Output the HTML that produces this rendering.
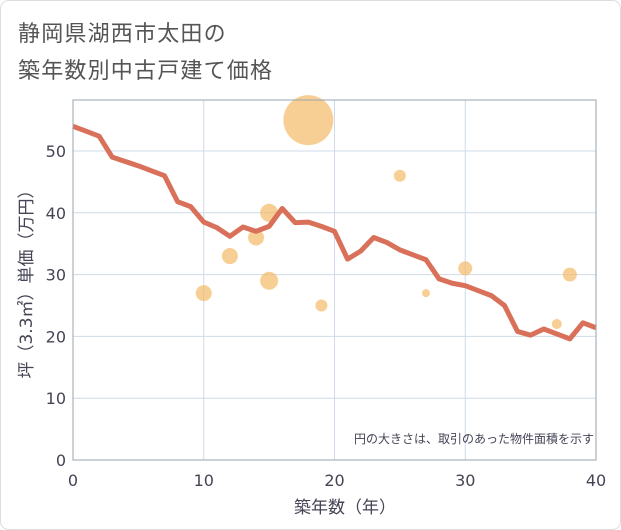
<!DOCTYPE html>
<html><head><meta charset="utf-8"><style>
body{margin:0;background:#fff;}
#wrap{position:relative;width:621px;height:530px;border-radius:8px;overflow:hidden;background:#fff;}
text{font-family:"DejaVu Sans","Noto Sans CJK JP",sans-serif;}
</style></head><body>
<div id="wrap">
<svg id="svg" width="621" height="530" xmlns="http://www.w3.org/2000/svg">
<rect x="0.5" y="0.5" width="620" height="529" rx="8" fill="#fff" stroke="#ddd"/>
<text x="18" y="41" font-size="22" letter-spacing="1.2" fill="#555">静岡県湖西市太田の</text>
<text x="18" y="78" font-size="22" letter-spacing="1.2" fill="#555">築年数別中古戸建て価格</text>
<g id="grid"></g>
<g id="bubbles"></g>
<path id="line" fill="none" stroke="#d9705a" stroke-width="5" stroke-linejoin="round"/>
<rect x="73" y="100" width="523" height="360" fill="none" stroke="#9aa3ad" stroke-width="1"/>
<g id="ticks"></g>
<text x="594" y="443" font-size="12" fill="#445" text-anchor="end">円の大きさは、取引のあった物件面積を示す</text>
<text x="345" y="513" font-size="17" fill="#445" text-anchor="middle">築年数（年）</text>
<text transform="translate(32,280) rotate(-90)" font-size="17" fill="#445" text-anchor="middle">坪（3.3㎡）単価（万円）</text>
</svg>
</div>
<script>
const xTicks=[0,10,20,30,40];
const yTicks=[0,10,20,30,40,50];
const lineYears=[0,1,2,3,4,5,6,7,8,9,10,11,12,13,14,15,16,17,18,19,20,21,22,23,24,25,26,27,28,29,30,31,32,33,34,35,36,37,38,39,40];
const lineValues=[54,53.2,52.4,49,48.3,47.6,46.8,46,41.8,41,38.5,37.6,36.2,37.7,37,37.8,40.7,38.4,38.5,37.8,37,32.5,33.8,36,35.2,34,33.2,32.4,29.3,28.6,28.2,27.4,26.6,25,20.8,20.2,21.2,20.4,19.6,22.2,21.4];
const bubbleX=[10,12,14,15,15,18,19,25,27,30,37,38];
const bubbleY=[27,33,36,40,29,55,25,46,27,31,22,30];
const bubbleArea=[64,64,64,81,81,625,36,36,16,49,25,49];
const NS="http://www.w3.org/2000/svg";
const xs=v=>73+v*(523/40);
const ys=v=>460-v*6.18;
const grid=document.getElementById('grid'),ticks=document.getElementById('ticks');
xTicks.forEach(t=>{
 const l=document.createElementNS(NS,'line');
 
 
 l.setAttribute('x1',xs(t));l.setAttribute('x2',xs(t));l.setAttribute('y1',100);l.setAttribute('y2',460);
 l.setAttribute('stroke','#cfdbe8');grid.appendChild(l);
 const tx=document.createElementNS(NS,'text');
 
 
 tx.setAttribute('x',xs(t));tx.setAttribute('y',486);tx.setAttribute('font-size','16');tx.setAttribute('fill','#445');tx.setAttribute('text-anchor','middle');
 tx.textContent=t;ticks.appendChild(tx);
});
yTicks.forEach(t=>{
 const l=document.createElementNS(NS,'line');
 
 
 l.setAttribute('x1',73);l.setAttribute('x2',596);l.setAttribute('y1',ys(t));l.setAttribute('y2',ys(t));
 l.setAttribute('stroke','#cfdbe8');grid.appendChild(l);
 const tx=document.createElementNS(NS,'text');
 
 
 tx.setAttribute('x',66);tx.setAttribute('y',ys(t)+6);tx.setAttribute('font-size','16');tx.setAttribute('fill','#445');tx.setAttribute('text-anchor','end');
 tx.textContent=t;ticks.appendChild(tx);
});
const bg=document.getElementById('bubbles');
bubbleX.forEach((x,i)=>{
 const c=document.createElementNS(NS,'circle');
 
 
 c.setAttribute('cx',xs(x));c.setAttribute('cy',ys(bubbleY[i]));c.setAttribute('r',Math.sqrt(bubbleArea[i]));
 c.setAttribute('fill','#f2b55c');c.setAttribute('fill-opacity','0.65');bg.appendChild(c);
});
document.getElementById('line').setAttribute('d',lineYears.map((x,i)=>(i?'L':'M')+xs(x)+','+ys(lineValues[i])).join(''));
</script>
</body></html>
